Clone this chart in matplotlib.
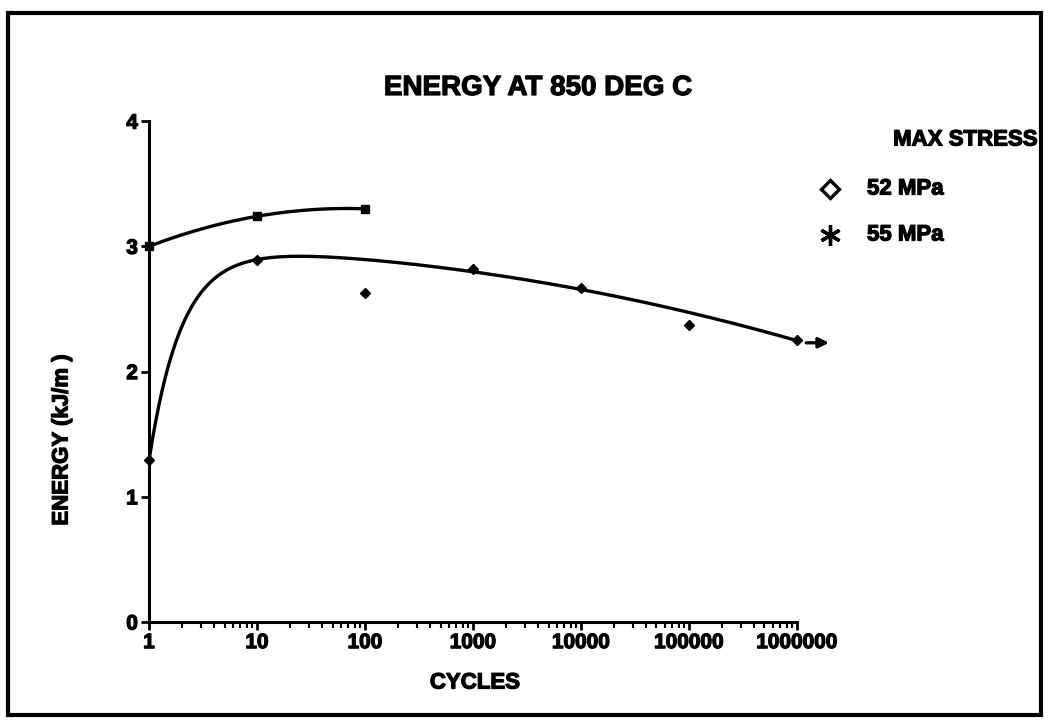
import numpy as np
import matplotlib
matplotlib.use("Agg")
import matplotlib.pyplot as plt
import matplotlib.patheffects as pe
from matplotlib.lines import Line2D
from matplotlib.patches import Rectangle
from matplotlib.ticker import LogLocator, FixedLocator, NullFormatter

plt.rcParams['font.family'] = ['Liberation Sans', 'DejaVu Sans']
plt.rcParams['font.weight'] = 'bold'

# Energy vs. cycles at 850 deg C
cycles_52 = [1, 10, 100, 1000, 10000, 100000, 1000000]
energy_52 = [1.29, 2.89, 2.63, 2.82, 2.67, 2.37, 2.25]
cycles_55 = [1, 10, 100]
energy_55 = [3.00, 3.24, 3.30]
x_tick_values = [1, 10, 100, 1000, 10000, 100000, 1000000]
x_tick_labels = ['1', '10', '100', '1000', '10000', '100000', '1000000']
y_tick_values = [0, 1, 2, 3, 4]
legend_title = 'MAX STRESS'
legend_labels = ['52 MPa', '55 MPa']

heavy = [pe.withStroke(linewidth=0.9, foreground='black')]

fig = plt.figure(figsize=(10.48, 7.28), dpi=100)
ax = fig.add_axes([0.1422, 0.1456, 0.6183, 0.688])

# smooth trend curves in log10(cycles); the end points and the long-life
# points carry more weight than the scattered 100-cycle result
u52 = np.log10(cycles_52)
fit_weight = np.array([6, 1, 0.3, 1.5, 1.5, 1, 4])
basis = lambda u: np.column_stack([np.ones_like(u), 1 - np.exp(-u / 0.3), u, u ** 2])
coef, *_ = np.linalg.lstsq(basis(u52) * fit_weight[:, None], np.array(energy_52) * fit_weight, rcond=None)
uu = np.linspace(0, u52.max(), 400)
ax.plot(10 ** uu, basis(uu) @ coef, color='black', lw=2.4, solid_capstyle='round')

u55 = np.log10(cycles_55)
p55 = np.polyfit(u55, energy_55, 2)
uu2 = np.linspace(0, u55.max(), 200)
ax.plot(10 ** uu2, np.polyval(p55, uu2), color='black', lw=2.4, solid_capstyle='round')

ax.plot(cycles_52, energy_52, linestyle='none', marker='D', ms=5.5, color='black', clip_on=False, zorder=5)
ax.plot(cycles_55, energy_55, linestyle='none', marker='s', ms=5.5, color='black', clip_on=False, zorder=5)

# run-out arrow on the last specimen
ax.annotate('', xy=(2.1e6, energy_52[-1] - 0.02), xytext=(1.15e6, energy_52[-1] - 0.02),
            arrowprops=dict(arrowstyle='-|>', lw=2.4, color='black', mutation_scale=15),
            annotation_clip=False)

ax.set_xscale('log')
ax.set_xlim(1, 1e6)
ax.set_ylim(0, 4)
ax.xaxis.set_major_locator(FixedLocator(x_tick_values))
ax.set_xticklabels(x_tick_labels)
ax.xaxis.set_minor_locator(LogLocator(base=10, subs=np.arange(2, 10), numticks=20))
ax.xaxis.set_minor_formatter(NullFormatter())
ax.set_yticks(y_tick_values)
ax.set_yticklabels([str(v) for v in y_tick_values])

for side in ['top', 'right']:
    ax.spines[side].set_visible(False)
for side in ['left', 'bottom']:
    ax.spines[side].set_linewidth(2.2)
ax.tick_params(axis='both', which='major', direction='out', length=6, width=2, labelsize=15, pad=2)
ax.tick_params(axis='x', which='minor', direction='out', length=4, width=1.5)
for lab in ax.get_xticklabels() + ax.get_yticklabels():
    lab.set_fontweight('bold')
    lab.set_path_effects(heavy)

fig.text(538 / 1048, 1 - 88 / 728, 'ENERGY AT 850 DEG C', ha='center', va='center', fontsize=20,
         fontweight='bold', path_effects=heavy)
fig.text(475 / 1048, 1 - 683 / 728, 'CYCLES', ha='center', va='center', fontsize=16,
         fontweight='bold', path_effects=heavy)
fig.text(62 / 1048, 1 - 440 / 728, 'ENERGY (kJ/m )', ha='center', va='center', rotation=90, fontsize=16,
         fontweight='bold', path_effects=heavy)

# legend
fig.text(1038 / 1048, 1 - 140 / 728, legend_title, ha='right', va='center', fontsize=16,
         fontweight='bold', path_effects=heavy)
fig.add_artist(Line2D([830 / 1048], [1 - 189 / 728], marker='D', ms=9, mfc='white', mec='black', mew=2.4,
                      linestyle='none', transform=fig.transFigure))
fig.add_artist(Line2D([830 / 1048], [1 - 235 / 728], marker=(6, 2, 0), ms=15, mec='black', mew=2.4,
                      linestyle='none', transform=fig.transFigure))
fig.text(867 / 1048, 1 - 189 / 728, legend_labels[0], ha='left', va='center', fontsize=16,
         fontweight='bold', path_effects=heavy)
fig.text(867 / 1048, 1 - 235 / 728, legend_labels[1], ha='left', va='center', fontsize=16,
         fontweight='bold', path_effects=heavy)

# outer frame
fig.add_artist(Rectangle((8 / 1048, 1 - 715 / 728), (1041 - 8) / 1048, (715 - 13) / 728,
                         transform=fig.transFigure, fill=False, lw=3, edgecolor='black'))

fig.savefig('out.png', dpi=100, facecolor='white')
